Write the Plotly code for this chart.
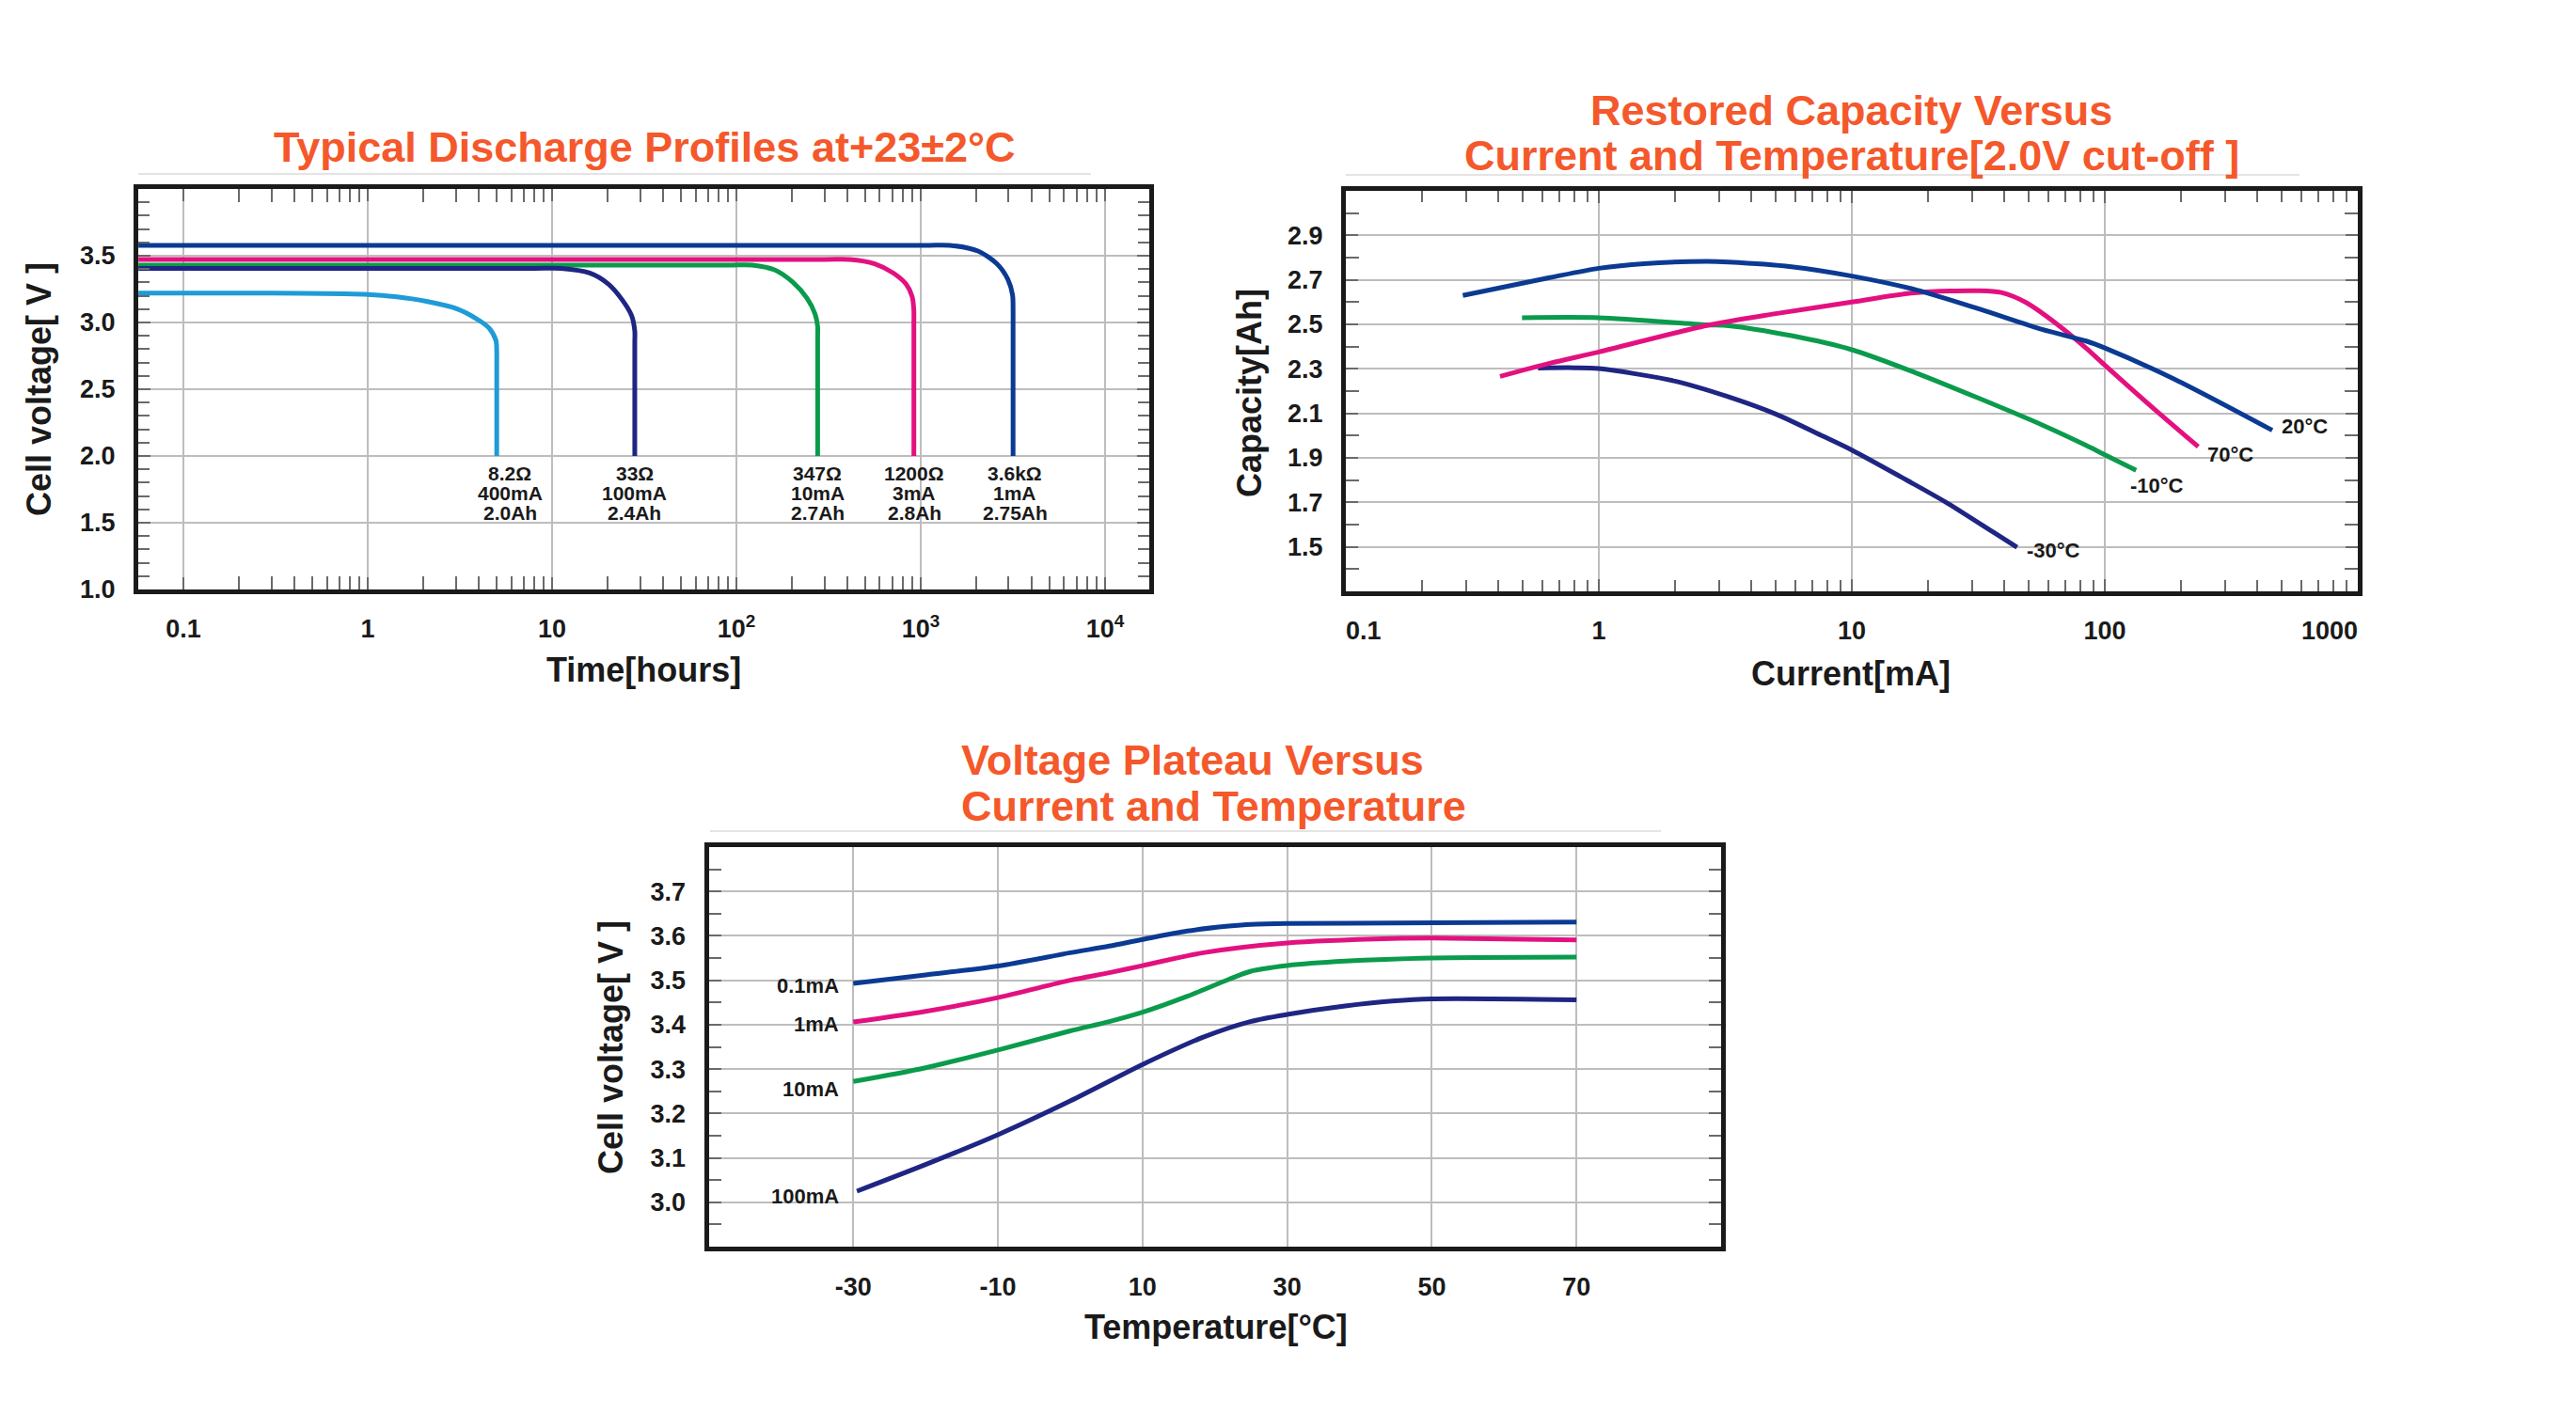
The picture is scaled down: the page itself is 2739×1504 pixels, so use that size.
import numpy as np
import plotly.graph_objects as go

W, H = 2739, 1504
FONT = "Liberation Sans, Arial, sans-serif"
INK = "#1a1a1a"
TITLE_COLOR = "#f4582b"
GRID = "#bdbdbd"
TICK = "#6a6a6a"
SEP = "#e4e4e4"

C_LIGHT = "#1f9bd7"
C_NAVY = "#1f2583"
C_GREEN = "#0a9b4c"
C_MAGENTA = "#e3117f"
C_BLUE = "#0b3a93"

# ---------------- Chart 1: Typical discharge profiles ----------------
t_8r2 = [0.057, 0.3, 0.75, 1.0, 1.41, 2.08, 3.08, 3.89, 4.55, 4.96, 5.01, 5.01, 5.01]
v_8r2 = [3.22, 3.22, 3.215, 3.21, 3.193, 3.158, 3.10, 3.028, 2.958, 2.864, 2.77, 2.68, 2.0]
t_33 = [0.057, 8.0, 11.2, 16, 20.2, 24, 27, 28.1, 28.1, 28.1]
v_33 = [3.405, 3.405, 3.405, 3.37, 3.288, 3.17, 3.052, 2.935, 2.85, 2.0]
t_347 = [0.057, 90, 122, 161, 203, 242, 267, 276, 276, 276]
v_347 = [3.43, 3.43, 3.43, 3.394, 3.30, 3.18, 3.064, 2.97, 2.89, 2.0]
t_1200 = [0.057, 300, 411, 563, 711, 832, 899, 918, 918, 918]
v_1200 = [3.472, 3.472, 3.472, 3.44, 3.37, 3.288, 3.193, 3.087, 3.0, 2.0]
t_3k6 = [0.057, 1050, 1439, 2045, 2588, 2970, 3150, 3170, 3170, 3170]
v_3k6 = [3.578, 3.578, 3.578, 3.535, 3.44, 3.323, 3.205, 3.087, 3.0, 2.0]

profile_loads = ["8.2Ω", "33Ω", "347Ω", "1200Ω", "3.6kΩ"]
profile_currents = ["400mA", "100mA", "10mA", "3mA", "1mA"]
profile_caps = ["2.0Ah", "2.4Ah", "2.7Ah", "2.8Ah", "2.75Ah"]
profile_label_hours = [5.9, 28.1, 276, 922, 3240]
profile_label_volts = 1.873

c1_xticks = [0.1, 1, 10, 100, 1000, 10000]
c1_xticktext = ["0.1", "1", "10", "10<sup>2</sup>", "10<sup>3</sup>", "10<sup>4</sup>"]
c1_yticks = [1.0, 1.5, 2.0, 2.5, 3.0, 3.5]
c1_yticktext = ["1.0", "1.5", "2.0", "2.5", "3.0", "3.5"]

# ---------------- Chart 2: Restored capacity ----------------
i_20 = [0.29, 0.64, 1, 1.51, 2.67, 3.26, 5.77, 10, 18.1, 31.9, 56.5, 84.4, 100, 189, 459]
cap_20 = [2.63, 2.71, 2.752, 2.773, 2.783, 2.78, 2.759, 2.717, 2.654, 2.569, 2.477,
          2.425, 2.394, 2.253, 2.024]
i_70 = [0.407, 0.64, 1, 2.67, 5.0, 10, 18.1, 31.9, 39, 49, 65.2, 84.4, 100, 158, 234]
cap_70 = [2.266, 2.325, 2.376, 2.495, 2.548, 2.60, 2.643, 2.651, 2.643, 2.597, 2.498,
          2.393, 2.317, 2.116, 1.95]
i_m10 = [0.497, 1, 2.67, 3.26, 5.77, 10, 18.1, 31.9, 56.5, 84.4, 100, 133]
cap_m10 = [2.53, 2.53, 2.498, 2.494, 2.449, 2.386, 2.28, 2.167, 2.048, 1.956, 1.914, 1.844]
i_m30 = [0.575, 0.8, 1, 2.0, 3.26, 5.0, 7.67, 10, 15.6, 24, 36.8, 45]
cap_m30 = [2.304, 2.305, 2.301, 2.245, 2.174, 2.097, 1.998, 1.935, 1.815, 1.695, 1.561, 1.498]

temp_labels = ["20°C", "70°C", "-10°C", "-30°C"]
temp_label_ma = [491, 250, 124, 48.3]
temp_label_ah = [2.04, 1.915, 1.776, 1.484]

c2_xticks = [0.1, 1, 10, 100, 1000]
c2_xticktext = ["\u00a0" * 5 + "0.1", "1", "10", "100", "1000" + "\u00a0" * 8]
c2_yticks = [1.5, 1.7, 1.9, 2.1, 2.3, 2.5, 2.7, 2.9]
c2_yticktext = ["1.5", "1.7", "1.9", "2.1", "2.3", "2.5", "2.7", "2.9"]

# ---------------- Chart 3: Voltage plateau ----------------
temp_01 = [-30, -20, -10, 0, 5.4, 10, 16.2, 21.9, 25, 30, 44.5, 70]
volt_01 = [3.493, 3.512, 3.532, 3.562, 3.577, 3.592, 3.611, 3.622, 3.626, 3.628, 3.629, 3.631]
temp_1 = [-30, -20, -10, 0, 5.4, 10, 18.4, 30, 44.5, 50, 70]
volt_1 = [3.406, 3.43, 3.461, 3.50, 3.517, 3.533, 3.562, 3.584, 3.594, 3.595, 3.591]
temp_10 = [-30, -20, -10, 0, 5.4, 10, 16.2, 21.9, 24.9, 30, 38, 50, 70]
volt_10 = [3.272, 3.303, 3.343, 3.386, 3.407, 3.428, 3.464, 3.502, 3.52, 3.533, 3.543,
           3.55, 3.552]
temp_100 = [-29.5, -20, -10, 0, 10.6, 18.4, 24.9, 30, 38, 44.5, 50, 70]
volt_100 = [3.025, 3.085, 3.152, 3.228, 3.315, 3.372, 3.407, 3.423, 3.442, 3.453, 3.458,
            3.456]

current_labels = ["0.1mA", "1mA", "10mA", "100mA"]
current_label_temp = -31.7
current_label_volt = [3.487, 3.40, 3.254, 3.013]

c3_xticks = [-30, -10, 10, 30, 50, 70]
c3_xticktext = ["-30", "-10", "10", "30", "50", "70"]
c3_yticks = [3.0, 3.1, 3.2, 3.3, 3.4, 3.5, 3.6, 3.7]
c3_yticktext = ["3.0", "3.1", "3.2", "3.3", "3.4", "3.5", "3.6", "3.7"]


def px(x):
    return x / W


def py(y):
    return 1 - y / H


def log_minor(decades):
    return [m * 10.0 ** d for d in decades for m in range(2, 10)]


fig = go.Figure()


def add_line(x, y, color, xa, ya, smoothing=0.8):
    fig.add_trace(go.Scatter(
        x=x, y=y, mode="lines", xaxis=xa, yaxis=ya,
        line=dict(color=color, width=5, shape="spline", smoothing=smoothing),
        hoverinfo="skip", showlegend=False))


# chart 1 traces
add_line(t_347, v_347, C_GREEN, "x", "y")
add_line(t_1200, v_1200, C_MAGENTA, "x", "y")
add_line(t_33, v_33, C_NAVY, "x", "y")
add_line(t_8r2, v_8r2, C_LIGHT, "x", "y")
add_line(t_3k6, v_3k6, C_BLUE, "x", "y")
# chart 2 traces
add_line(i_m30, cap_m30, C_NAVY, "x2", "y2")
add_line(i_m10, cap_m10, C_GREEN, "x2", "y2")
add_line(i_70, cap_70, C_MAGENTA, "x2", "y2")
add_line(i_20, cap_20, C_BLUE, "x2", "y2")
# chart 3 traces
add_line(temp_100, volt_100, C_NAVY, "x3", "y3")
add_line(temp_10, volt_10, C_GREEN, "x3", "y3")
add_line(temp_1, volt_1, C_MAGENTA, "x3", "y3")
add_line(temp_01, volt_01, C_BLUE, "x3", "y3")

tickfont = dict(family=FONT, size=27, color=INK, weight="bold")


def axis(**kw):
    base = dict(showline=True, linecolor=INK, linewidth=5, mirror="allticks",
                showgrid=True, gridcolor=GRID, gridwidth=1.5, zeroline=False,
                tickfont=tickfont, ticks="inside", ticklen=13, tickwidth=1.5,
                tickcolor=TICK, tickmode="array", fixedrange=True, automargin=False)
    base.update(kw)
    return base


def minor(vals, length=13):
    return dict(tickmode="array", tickvals=vals, ticks="inside", ticklen=length,
                tickwidth=1.5, tickcolor=TICK, showgrid=False)


c1_ymin = [round(1.0 + 0.1 * k, 2) for k in range(1, 30) if k % 5 != 0]
c2_ymin = [round(1.4 + 0.2 * k, 2) for k in range(0, 9)]
c3_ymin = [round(2.95 + 0.1 * k, 2) for k in range(0, 9)]

layout = dict(
    width=W, height=H, autosize=False,
    margin=dict(l=0, r=0, t=0, b=0, pad=0, autoexpand=False),
    paper_bgcolor="white", plot_bgcolor="white", showlegend=False,
    xaxis=axis(type="log", domain=[px(147), px(1222)], range=[-1.245, 4.24], anchor="y",
               tickvals=c1_xticks, ticktext=c1_xticktext, ticklabelstandoff=14,
               minor=minor(log_minor(range(-1, 4)), 14)),
    yaxis=axis(domain=[py(627), py(201)], range=[1.0, 4.0], anchor="x",
               tickvals=c1_yticks, ticktext=c1_yticktext, ticklabelstandoff=14,
               minor=minor(c1_ymin, 12)),
    xaxis2=axis(type="log", domain=[px(1431), px(2507)], range=[-1, 3], anchor="y2",
                tickvals=c2_xticks, ticktext=c2_xticktext, ticklabelstandoff=14,
                minor=minor(log_minor(range(-1, 3)), 12)),
    yaxis2=axis(domain=[py(629), py(203)], range=[1.3, 3.1], anchor="x2",
                tickvals=c2_yticks, ticktext=c2_yticktext, ticklabelstandoff=14,
                minor=minor(c2_ymin, 14)),
    xaxis3=axis(domain=[px(753.5), px(1830)], range=[-50, 90], anchor="y3",
                tickvals=c3_xticks, ticktext=c3_xticktext, ticklabelstandoff=15,
                ticks=""),
    yaxis3=axis(domain=[py(1326), py(901)], range=[2.9, 3.8], anchor="x3",
                tickvals=c3_yticks, ticktext=c3_yticktext, ticklabelstandoff=14,
                minor=minor(c3_ymin, 13)),
)

ann = []


def text(t, x, y, size, color=INK, xanchor="center", yanchor="middle", angle=0,
         xref="paper", yref="paper", xshift=0, yshift=0):
    ann.append(dict(text=t, x=x, y=y, xref=xref, yref=yref, showarrow=False,
                    xanchor=xanchor, yanchor=yanchor, textangle=angle,
                    xshift=xshift, yshift=yshift,
                    font=dict(family=FONT, size=size, color=color, weight="bold")))


# titles
text("Typical Discharge Profiles at+23±2°C", px(685), py(157), 45, TITLE_COLOR)
text("Restored Capacity Versus", px(1969), py(117), 45, TITLE_COLOR)
text("Current and Temperature[2.0V cut-off ]", px(1969), py(166), 45, TITLE_COLOR)
text("Voltage Plateau Versus", px(1020), py(808), 45, TITLE_COLOR, xanchor="left")
text("Current and Temperature", px(1020), py(857), 45, TITLE_COLOR, xanchor="left")

# axis titles
text("Cell voltage[ V ]", px(42), py(414), 36, angle=-90)
text("Time[hours]", px(684), py(713), 36)
text("Capacity[Ah]", px(1328), py(418), 36, angle=-90)
text("Current[mA]", px(1968), py(716), 36)
text("Cell voltage[ V ]", px(649), py(1114), 36, angle=-90)
text("Temperature[°C]", px(1293), py(1411), 36)

# chart 1 curve labels (one annotation per line for tight spacing)
for k in range(len(profile_loads)):
    for j, line in enumerate([profile_loads[k], profile_currents[k], profile_caps[k]]):
        text(line, np.log10(profile_label_hours[k]), profile_label_volts, 21,
             xref="x", yref="y", yshift=-21 * j)

# chart 2 curve labels
for k in range(len(temp_labels)):
    text(temp_labels[k], np.log10(temp_label_ma[k]), temp_label_ah[k], 22,
         xanchor="left", xref="x2", yref="y2")

# chart 3 curve labels
for k in range(len(current_labels)):
    text(current_labels[k], current_label_temp, current_label_volt[k], 22,
         xanchor="right", xref="x3", yref="y3")

layout["annotations"] = ann

# thin separator lines under titles
shapes = []
for x0, x1, y in [(147, 1160, 185), (1431, 2445, 186), (755, 1766, 884)]:
    shapes.append(dict(type="line", xref="paper", yref="paper",
                       x0=px(x0), x1=px(x1), y0=py(y), y1=py(y),
                       line=dict(color=SEP, width=2)))
layout["shapes"] = shapes

fig.update_layout(**layout)

fig.write_html("out.html", config={"displayModeBar": False},
               post_script="document.body.style.margin='0';document.body.style.overflow='hidden';")
